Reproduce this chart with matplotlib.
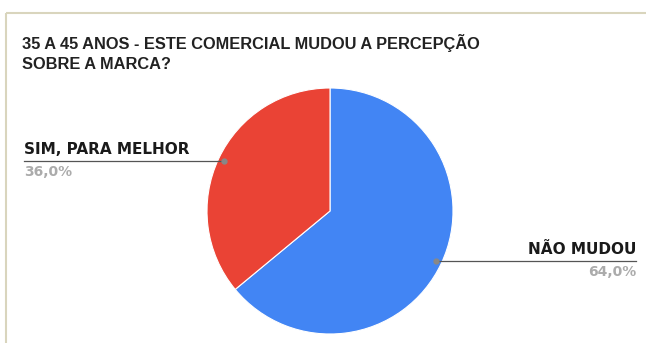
import numpy as np
import matplotlib.pyplot as plt

titulo = "35 A 45 ANOS - ESTE COMERCIAL MUDOU A PERCEPÇÃO\nSOBRE A MARCA?"
categorias = ["NÃO MUDOU", "SIM, PARA MELHOR"]
valores = [64.0, 36.0]
cores = ["#4285f4", "#ea4335"]

W, H = 646, 343
fig = plt.figure(figsize=(W / 100, H / 100), dpi=100)
ax = fig.add_axes([0, 0, 1, 1])

# moldura bege (topo e esquerda)
ax.plot([6, W], [H - 13, H - 13], color="#d9d5bd", lw=1.5, solid_capstyle="butt")
ax.plot([6, 6], [0, H - 13], color="#d9d5bd", lw=1.5, solid_capstyle="butt")

fig.text(22 / W, 1 - 34 / H, titulo, fontsize=11.8, fontweight="bold",
         family="Liberation Sans", va="top", ha="left", color="#222222",
         linespacing=1.4)

cx, cy, r = 330, H - 211, 123
ax.pie(valores, colors=cores, startangle=90, counterclock=False,
       center=(cx, cy), radius=r, frame=True,
       wedgeprops=dict(linewidth=0.8, edgecolor="white"))
ax.set_xlim(0, W)
ax.set_ylim(0, H)
ax.set_aspect("equal")
ax.axis("off")

# rótulos com linha guia
inicio = 90.0
total = sum(valores)
for nome, v in zip(categorias, valores):
    meio = inicio - v / total * 360 / 2
    inicio -= v / total * 360
    a = np.deg2rad(meio)
    px, py = cx + 0.95 * r * np.cos(a), cy + 0.95 * r * np.sin(a)
    if np.cos(a) >= 0:
        x_fim, ha = 636, "right"
    else:
        x_fim, ha = 24, "left"
    ax.plot([px, x_fim], [py, py], color="#555555", lw=0.9)
    ax.plot(px, py, "o", color="#888888", ms=3.5)
    ax.text(x_fim, py + 4, nome, ha=ha, va="bottom", fontsize=11,
            fontweight="bold", color="#1a1a1a")
    ax.text(x_fim, py - 4, f"{v:.1f}%".replace(".", ","), ha=ha, va="top",
            fontsize=10, fontweight="bold", color="#ababab")

fig.savefig("out.png", dpi=100, facecolor="white")
